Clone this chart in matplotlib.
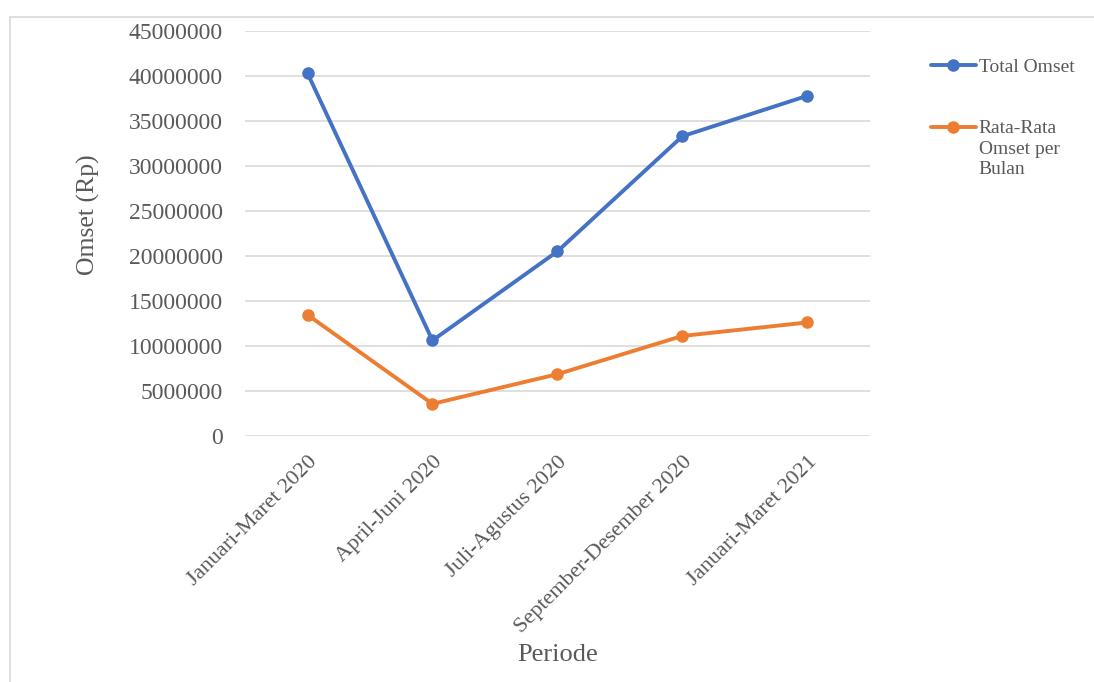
import matplotlib
matplotlib.use("Agg")
import matplotlib.pyplot as plt
from matplotlib.patches import Rectangle

# data
periode = ["Januari-Maret 2020", "April-Juni 2020", "Juli-Agustus 2020",
           "September-Desember 2020", "Januari-Maret 2021"]
total_omset = [40300000, 10600000, 20500000, 33300000, 37800000]
rata_omset = [13450000, 3550000, 6850000, 11100000, 12600000]
y_ticks = [0, 5000000, 10000000, 15000000, 20000000, 25000000,
           30000000, 35000000, 40000000, 45000000]

plt.rcParams['font.family'] = ['Liberation Serif', 'DejaVu Serif']
grey_text = '#595959'

fig = plt.figure(figsize=(10.94, 6.82), dpi=100)
ax = fig.add_axes([0.224, 0.361, 0.571, 0.5935])

x = range(len(periode))
ax.plot(x, total_omset, color='#4472C4', lw=2.8, marker='o', ms=8,
        label='Total Omset', solid_capstyle='round')
ax.plot(x, rata_omset, color='#ED7D31', lw=2.8, marker='o', ms=8,
        label='Rata-Rata\nOmset per\nBulan', solid_capstyle='round')

ax.set_xlim(-0.5, len(periode) - 0.5)
ax.set_ylim(0, 45000000)
ax.set_yticks(y_ticks)
ax.set_yticklabels([str(v) for v in y_ticks])
ax.set_xticks(list(x))
ax.set_xticklabels(periode, rotation=45, ha='right', rotation_mode='anchor')
ax.tick_params(axis='both', length=0, colors=grey_text)
ax.tick_params(axis='y', pad=16, labelsize=17)
ax.tick_params(axis='x', pad=12, labelsize=16)
ax.grid(axis='y', color='#d9d9d9', lw=1.2)
ax.set_axisbelow(True)
for s in ax.spines.values():
    s.set_visible(False)

ax.set_ylabel('Omset (Rp)', fontsize=18.5, color=grey_text)
ax.yaxis.set_label_coords(-0.232, 0.546)
fig.text(0.51, 1 - 655 / 682, 'Periode', fontsize=19, color=grey_text,
         ha='center', va='center')

leg = ax.legend(loc='upper left', bbox_to_anchor=(1.07, 0.975), frameon=False,
                fontsize=14, labelcolor=grey_text, labelspacing=2.3,
                handlelength=2.3, handletextpad=0.15)
for t in leg.get_texts():
    t.set_linespacing(1.25)
# put the handle next to the first line of a multi-line label
for col in leg._legend_handle_box.get_children():
    for item in col.get_children():
        item.align = 'top'

# outer chart frame
fig.patches.append(Rectangle((10 / 1094, -0.1), 1.2, 1 - 17 / 682 + 0.1,
                             transform=fig.transFigure, fill=False,
                             edgecolor='#d9d9d9', lw=1.2))

fig.savefig('out.png', dpi=100)
